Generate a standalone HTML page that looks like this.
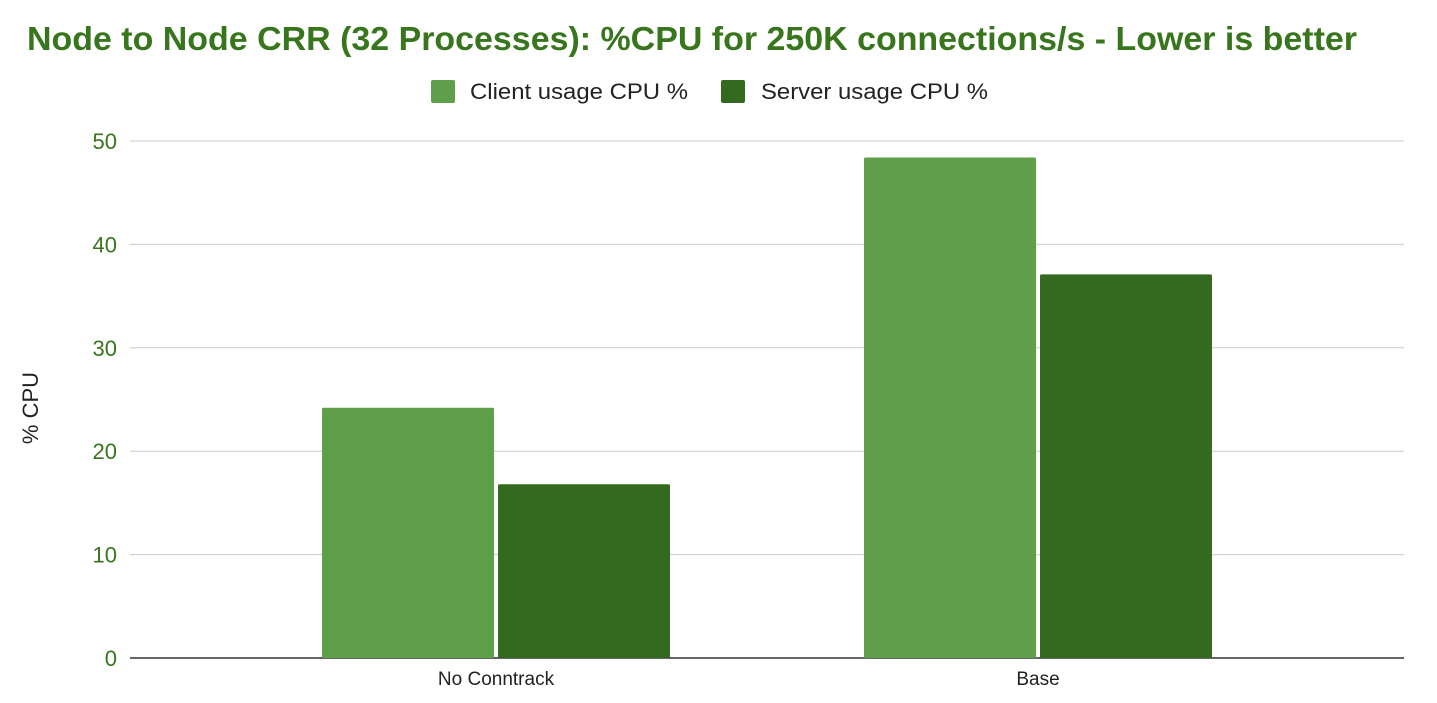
<!DOCTYPE html>
<html><head><meta charset="utf-8"><style>
body{margin:0;background:#fff;font-family:"Liberation Sans",Arial,sans-serif}
svg{display:block}
</style></head><body>
<svg id="chart" width="1437" height="703">
<text x="27" y="50" font-size="33" font-weight="bold" fill="#38761d" textLength="1330" lengthAdjust="spacingAndGlyphs">Node to Node CRR (32 Processes): %CPU for 250K connections/s - Lower is better</text>
<g>
<rect x="431" y="80" width="24" height="23" rx="2" fill="#5f9f4a"/>
<text x="470" y="99" font-size="22" fill="#222" textLength="218" lengthAdjust="spacingAndGlyphs">Client usage CPU %</text>
<rect x="721" y="80" width="24" height="23" rx="2" fill="#336a1f"/>
<text x="761" y="99" font-size="22" fill="#222" textLength="227" lengthAdjust="spacingAndGlyphs">Server usage CPU %</text>
</g>
<text transform="translate(38,408) rotate(-90)" text-anchor="middle" font-size="22" fill="#222">% CPU</text>
<g id="grid"></g><g id="bars"></g><g id="xl"></g>
</svg>
<script>
const categories = ["No Conntrack", "Base"];
const clientValues = [24.2, 48.4];
const serverValues = [16.8, 37.1];
const yTicks = [0, 10, 20, 30, 40, 50];
const NS = "http://www.w3.org/2000/svg";
const x0 = 130, x1 = 1404, bandStart = 225, bandEnd = 1309, yBase = 658, yTop = 141, yMax = 50;
const y = v => yBase - (v / yMax) * (yBase - yTop);
const bw = 172, gap = 4;
const catW = (bandEnd - bandStart) / categories.length;
const cx = i => bandStart + catW * (i + 0.5);
function mk(tag, attrs, parent) { const e = document.createElementNS(NS, tag); for (const k in attrs) e.setAttribute(k, attrs[k]); parent.appendChild(e); return e; }
const grid = document.getElementById('grid');
yTicks.forEach(t => {
  const l = mk('line', {x1: x0, x2: x1, y1: y(t), y2: y(t), stroke: t === 0 ? '#333' : '#ccc', 'stroke-width': t === 0 ? 1.5 : 1}, grid);
  
  
  const tx = mk('text', {x: 117, y: y(t) + 8, 'text-anchor': 'end', 'font-size': 22, fill: '#38761d'}, grid);
  tx.textContent = t;
  
  
});
const bars = document.getElementById('bars'), xl = document.getElementById('xl');
categories.forEach((c, i) => {
  const r1 = mk('rect', {x: cx(i) - gap / 2 - bw, y: y(clientValues[i]), width: bw, height: yBase - y(clientValues[i]), fill: '#5f9f4a', rx: 1.5}, bars);
  
  
  const r2 = mk('rect', {x: cx(i) + gap / 2, y: y(serverValues[i]), width: bw, height: yBase - y(serverValues[i]), fill: '#336a1f', rx: 1.5}, bars);
  
  
  const t = mk('text', {x: cx(i), y: 685, 'text-anchor': 'middle', 'font-size': 19, fill: '#222'}, xl);
  t.textContent = c;
  
  
});
</script>
</body></html>
